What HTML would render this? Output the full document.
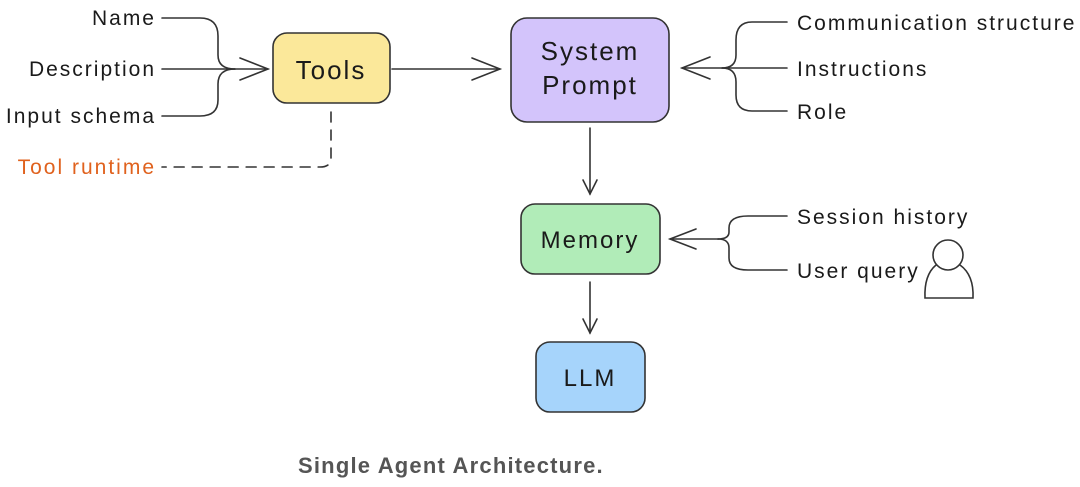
<!DOCTYPE html>
<html><head><meta charset="utf-8"><style>
html,body{margin:0;padding:0;background:#fff;}
svg{display:block}
text{font-family:"Liberation Sans",sans-serif;font-size:21px;letter-spacing:2px;fill:#1a1a1a}
</style></head><body>
<svg width="1080" height="487" viewBox="0 0 1080 487">
<g fill="none" stroke="#333" stroke-width="1.6" stroke-linecap="round">
<path d="M162 18 H200 Q218 18 218 36 V55 Q218 69 235 69"/>
<path d="M162 69 H268"/>
<path d="M162 116 H200 Q218 116 218 100 V84 Q218 69 235 69"/>
<path d="M240 58 L268 69 L240 80"/>
<path d="M331 112 V158 Q331 167 320 167 H162" stroke-dasharray="10 8"/>
<path d="M392 69 H500"/><path d="M472 58 L500 69 L472 80"/>
<path d="M787 22 H752 Q736 22 736 40 V55 Q736 68 722 68"/>
<path d="M787 68 H682"/>
<path d="M787 111 H752 Q736 111 736 95 V82 Q736 68 722 68"/>
<path d="M710 57 L682 68 L710 79"/>
<path d="M590 128 V194"/><path d="M583 180 L590 194 L597 180"/>
<path d="M590 282 V333"/><path d="M583 319 L590 333 L597 319"/>
<path d="M787 216 H748 Q729 216 729 228 V232 Q729 239 718 239"/>
<path d="M718 239 H670"/>
<path d="M787 270 H748 Q729 270 729 258 V248 Q729 239 718 239"/>
<path d="M696 229 L670 239 L696 249"/>
<circle cx="948" cy="255" r="15"/>
<path d="M936 265 Q924 275 925 298 H973 Q974 275 960 265"/>
</g>
<rect x="273" y="33" width="117" height="70" rx="14" fill="#fbe89a" stroke="#333" stroke-width="1.6"/>
<rect x="511" y="18" width="158" height="104" rx="16" fill="#d3c4fb" stroke="#333" stroke-width="1.6"/>
<rect x="521" y="204" width="139" height="70" rx="14" fill="#b1ecb8" stroke="#333" stroke-width="1.6"/>
<rect x="536" y="342" width="109" height="70" rx="14" fill="#a6d4fb" stroke="#333" stroke-width="1.6"/>
<text x="331" y="79" text-anchor="middle" style="font-size:26px">Tools</text>
<text x="590" y="60" text-anchor="middle" style="font-size:26px">System</text>
<text x="590" y="94" text-anchor="middle" style="font-size:26px">Prompt</text>
<text x="590" y="248" text-anchor="middle" style="font-size:24px">Memory</text>
<text x="590" y="386" text-anchor="middle" style="font-size:24px">LLM</text>
<g text-anchor="end">
<text x="156" y="25">Name</text>
<text x="156" y="76">Description</text>
<text x="156" y="123">Input schema</text>
<text x="156" y="174" style="fill:#e0621e">Tool runtime</text>
</g>
<text x="797" y="30">Communication structure</text>
<text x="797" y="76">Instructions</text>
<text x="797" y="119">Role</text>
<text x="797" y="224">Session history</text>
<text x="797" y="278">User query</text>
<text x="298" y="473" style="font-size:22px;letter-spacing:1.2px;font-weight:bold;fill:#555">Single Agent Architecture.</text>
</svg>
</body></html>
